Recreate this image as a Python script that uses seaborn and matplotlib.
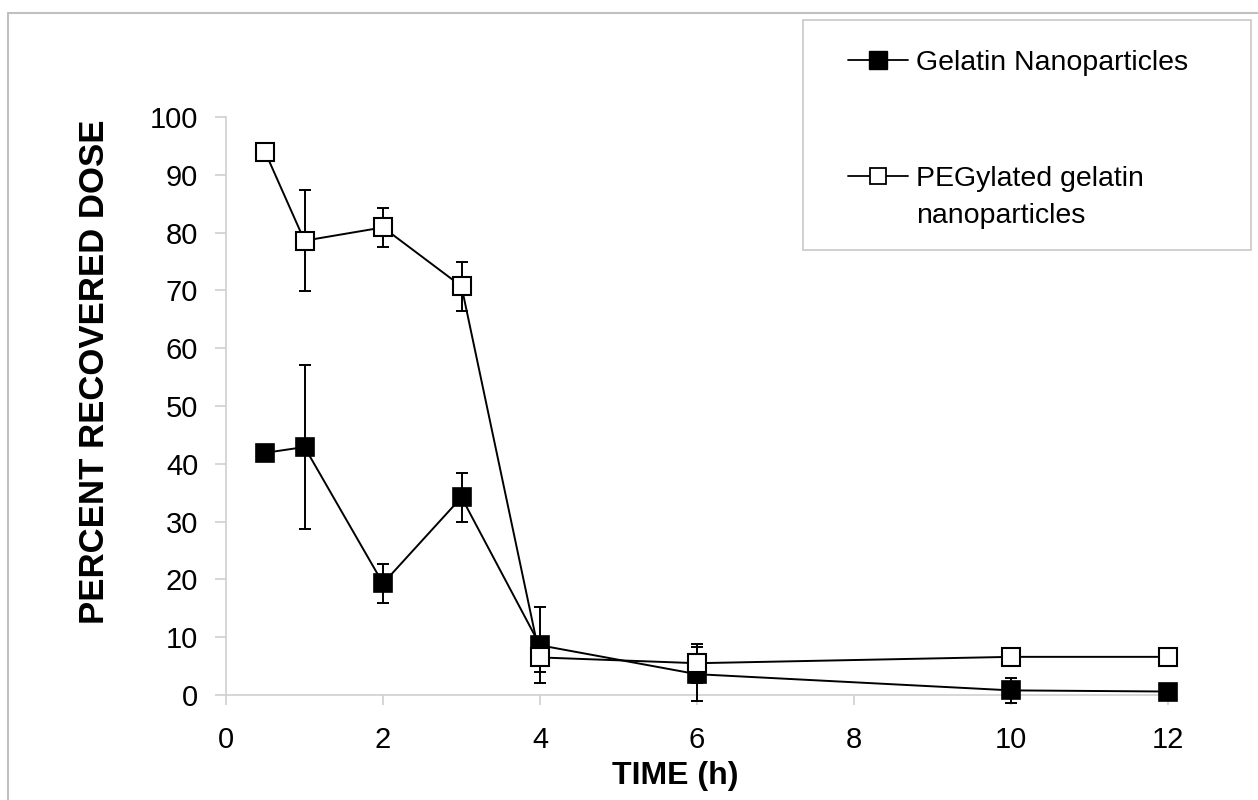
import matplotlib
matplotlib.use("Agg")
import matplotlib.pyplot as plt
from matplotlib.lines import Line2D
from matplotlib.patches import Rectangle
import seaborn as sns
import pandas as pd

# ---- data ----
time_h = [0.5, 1, 2, 3, 4, 6, 10, 12]
gelatin = [41.9, 42.9, 19.3, 34.2, 8.6, 3.6, 0.8, 0.6]
gelatin_err = [0, 14.2, 3.4, 4.2, 6.6, 4.7, 2.2, 0]
peg = [93.9, 78.6, 80.9, 70.7, 6.5, 5.5, 6.6, 6.6]
peg_err = [0, 8.7, 3.4, 4.3, 2.5, 3.4, 0, 0]
series_names = ["Gelatin Nanoparticles", "PEGylated gelatin", "nanoparticles"]
x_ticks = [0, 2, 4, 6, 8, 10, 12]
y_ticks = [0, 10, 20, 30, 40, 50, 60, 70, 80, 90, 100]

sns.set_style("white")
plt.rcParams["font.family"] = ["Liberation Sans", "DejaVu Sans"]
plt.rcParams["text.color"] = "black"
plt.rcParams["axes.labelcolor"] = "black"
plt.rcParams["xtick.color"] = "black"
plt.rcParams["ytick.color"] = "black"

W, H = 1258, 800
fig = plt.figure(figsize=(W / 100, H / 100), dpi=100)
ax = fig.add_axes([226 / W, 1 - 695 / H, (1168 - 226) / W, (695 - 117) / H])

df_g = pd.DataFrame({"t": time_h, "v": gelatin})
df_p = pd.DataFrame({"t": time_h, "v": peg})

# error bars
for vals, errs in [(gelatin, gelatin_err), (peg, peg_err)]:
    eb = ax.errorbar(time_h, vals, yerr=errs, fmt="none", ecolor="black",
                     elinewidth=1.4, capsize=4, capthick=1.4, zorder=2)
    for art in eb.lines[1] + eb.lines[2]:
        art.set_clip_on(False)

sns.lineplot(data=df_g, x="t", y="v", ax=ax, color="black", lw=1.4,
             marker="s", markersize=13, markerfacecolor="black",
             markeredgecolor="black", markeredgewidth=1.2, zorder=3,
             legend=False, clip_on=False)
sns.lineplot(data=df_p, x="t", y="v", ax=ax, color="black", lw=1.4,
             marker="s", markersize=13, markerfacecolor="white",
             markeredgecolor="black", markeredgewidth=1.5, zorder=3,
             legend=False, clip_on=False)

ax.set_xlim(0, 12)
ax.set_ylim(0, 100)
ax.set_xticks(x_ticks)
ax.set_yticks(y_ticks)
ax.set_xticklabels([str(v) for v in x_ticks])
ax.set_yticklabels([str(v) for v in y_ticks])

spine_c = "#d0d0d0"
for s in ["top", "right"]:
    ax.spines[s].set_visible(False)
for s in ["left", "bottom"]:
    ax.spines[s].set_color(spine_c)
    ax.spines[s].set_linewidth(1.2)
    ax.spines[s].set_zorder(1)

ax.tick_params(axis="y", direction="out", length=8, width=1.2, color=spine_c,
               labelcolor="black", labelsize=21, pad=12, left=True)
ax.tick_params(axis="x", direction="out", length=7, width=1.2, color=spine_c,
               labelcolor="black", labelsize=21, pad=15, bottom=True)

ax.set_xlabel("TIME (h)", fontsize=23, fontweight="bold", color="black")
ax.set_ylabel("PERCENT RECOVERED DOSE", fontsize=25, fontweight="bold", color="black")
ax.xaxis.set_label_coords((675 - 226) / (1168 - 226), (695 - 776) / (695 - 117))
ax.xaxis.label.set_va("center")
ax.yaxis.set_label_coords((95 - 226) / (1168 - 226), (695 - 372) / (695 - 117))
ax.yaxis.label.set_va("center")

# legend frame
fig.add_artist(Rectangle((803 / W, 1 - 250 / H), 448 / W, 230 / H,
                         transform=fig.transFigure, facecolor="white",
                         edgecolor="#c8c8c8", lw=1.2, zorder=4))

# legend
handles = [
    Line2D([], [], color="black", lw=1.3, marker="s", markersize=13,
           markerfacecolor="black", markeredgecolor="black"),
    Line2D([], [], color="black", lw=1.3, marker="s", markersize=12,
           markerfacecolor="white", markeredgecolor="black", markeredgewidth=1.3),
]
leg = fig.legend(handles, series_names[:2], loc="upper left",
                 bbox_to_anchor=(848 / W, 1 - 50 / H), bbox_transform=fig.transFigure,
                 frameon=False, borderpad=0, borderaxespad=0, fontsize=20.5,
                 handlelength=2.1, handletextpad=0.3, labelspacing=3.15)
leg.set_zorder(6)
for t in leg.get_texts():
    t.set_color("black")
fig.text(916 / W, 1 - 223 / H, series_names[2], fontsize=20.5, va="baseline",
         ha="left", zorder=7, color="black")

# figure border
fig.add_artist(Line2D([8 / W, 8 / W], [0, 1 - 13 / H], transform=fig.transFigure,
                      color="#c0c0c0", lw=1.5))
fig.add_artist(Line2D([8 / W, 1], [1 - 13 / H, 1 - 13 / H], transform=fig.transFigure,
                      color="#c0c0c0", lw=1.5))

fig.savefig("out.png", dpi=100, facecolor="white")
